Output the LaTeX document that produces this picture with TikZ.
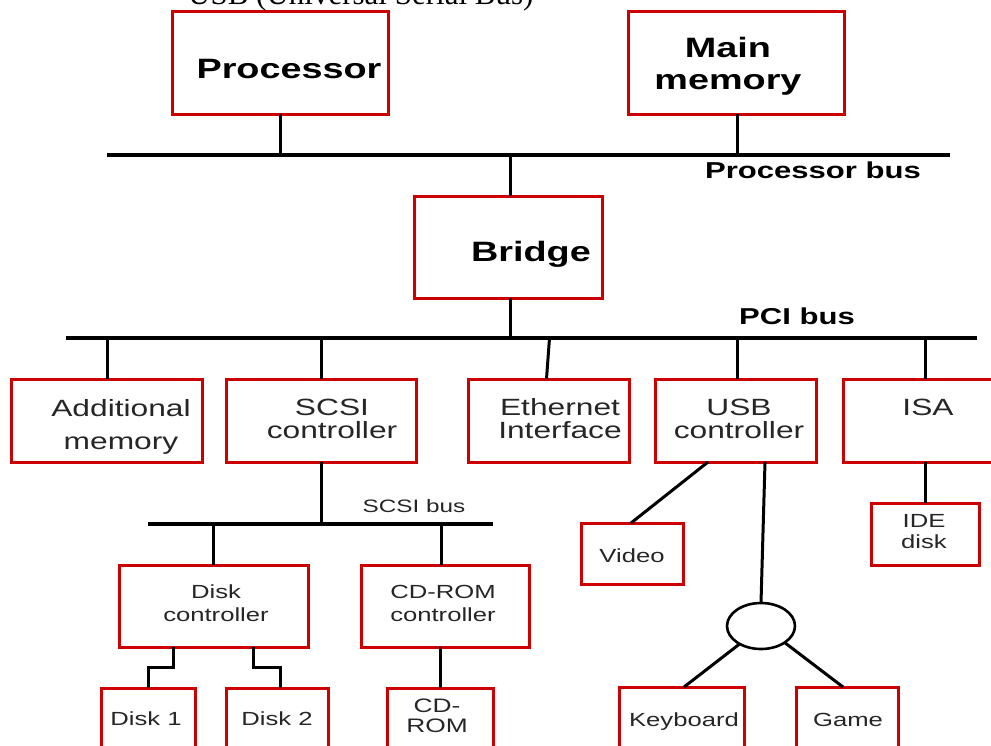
\documentclass[tikz,border=0pt]{standalone}
\usepackage{fontspec}
\setmainfont{Liberation Serif}
\newfontfamily\wsans[FakeStretch=1.35]{Liberation Sans}
\usetikzlibrary{shapes.geometric}
\definecolor{boxred}{RGB}{204,0,0}
\tikzset{
  box/.style={draw=boxred, line width=3pt, inner sep=0pt, outer sep=0pt},
  wire/.style={line width=3pt, black},
  busline/.style={line width=3.2pt, black},
  lblB/.style={anchor=base, align=center, inner sep=0pt, font=\wsans\bfseries\fontsize{28}{32}\selectfont},
  lblBus/.style={anchor=base, inner sep=0pt, font=\wsans\bfseries\fontsize{23}{26}\selectfont},
  lblM/.style={anchor=base, align=center, inner sep=0pt, text=black!85, font=\wsans\fontsize{23.5}{23}\selectfont},
  lblS/.style={anchor=base, align=center, inner sep=0pt, text=black!85, font=\wsans\fontsize{19}{23}\selectfont},
  hubshape/.style={ellipse, draw=black, line width=2.6pt, inner sep=0pt, outer sep=0pt, minimum width=68pt, minimum height=46pt}
}
\begin{document}
\begin{tikzpicture}[x=1pt,y=-1pt]
\clip (0,0) rectangle (991,745);
\fill[white] (0,0) rectangle (991,745);

% title (cut off at top, as in the original)
\node[anchor=base west, inner sep=0pt, font=\fontsize{31}{34}\selectfont] (title) at (188,4) {USB (Universal Serial Bus)};

% bus coordinates
\coordinate (pbL) at (107,155);
\coordinate (pbR) at (950,155);
\coordinate (pciL) at (66,338);
\coordinate (pciR) at (977,338);
\coordinate (scsiL) at (148,524);
\coordinate (scsiR) at (493,524);

% top level
\node[box, minimum width=216pt, minimum height=103pt] (proc) at (280,62.5) {};
\node[lblB] (proc-t) at (289,78) {Processor};
\node[box, minimum width=216pt, minimum height=103pt] (mem) at (736,62.5) {};
\node[lblB] (mem-t) at (728,89) {Main\\memory};
\node[lblBus] (pb-t) at (813,178) {Processor bus};

\node[box, minimum width=188pt, minimum height=102pt] (bridge) at (508,247) {};
\node[lblB] (bridge-t) at (531,261) {Bridge};
\node[lblBus] (pci-t) at (797,324) {PCI bus};

% PCI row
\node[box, minimum width=191pt, minimum height=83pt] (addmem) at (107,420.5) {};
\node[lblM, font=\wsans\fontsize{23.5}{33}\selectfont] (addmem-t) at (121,449) {Additional\\memory};
\node[box, minimum width=190pt, minimum height=83pt] (scsi) at (321.5,420.5) {};
\node[lblM] (scsi-t) at (332,438) {SCSI\\controller};
\node[box, minimum width=161pt, minimum height=83pt] (eth) at (548.5,420.5) {};
\node[lblM] (eth-t) at (560,438) {Ethernet\\Interface};
\node[box, minimum width=161pt, minimum height=83pt] (usb) at (736,420.5) {};
\node[lblM] (usb-t) at (739,438) {USB\\controller};
\node[box, minimum width=164pt, minimum height=83pt] (isa) at (925,420.5) {};
\node[lblM] (isa-t) at (928,415) {ISA};

% SCSI subtree
\node[lblS, font=\wsans\fontsize{18}{20}\selectfont] (scsibus-t) at (414,512) {SCSI bus};
\node[box, minimum width=189pt, minimum height=82pt] (dctrl) at (213.5,606) {};
\node[lblS] (dctrl-t) at (216,621) {Disk\\controller};
\node[box, minimum width=168pt, minimum height=82pt] (cdctrl) at (445,606) {};
\node[lblS] (cdctrl-t) at (443,621) {CD-ROM\\controller};
\node[box, minimum width=94pt, minimum height=80pt] (disk1) at (148,728) {};
\node[lblS] (disk1-t) at (146,725) {Disk 1};
\node[box, minimum width=102pt, minimum height=80pt] (disk2) at (277,728) {};
\node[lblS] (disk2-t) at (277,725) {Disk 2};
\node[box, minimum width=106pt, minimum height=80pt] (cdrom) at (440,728) {};
\node[lblS, font=\wsans\fontsize{19.5}{20}\selectfont] (cdrom-t) at (437,732) {CD-\\ROM};

% USB subtree
\node[box, minimum width=102pt, minimum height=61pt] (video) at (632,553.5) {};
\node[lblS] (video-t) at (632,562) {Video};
\node[hubshape] (hub) at (761,626) {};
\node[box, minimum width=125pt, minimum height=80pt] (kbd) at (681.5,727) {};
\node[lblS] (kbd-t) at (684,726) {Keyboard};
\node[box, minimum width=102pt, minimum height=80pt] (game) at (847,727) {};
\node[lblS] (game-t) at (848,726) {Game};

% ISA subtree
\node[box, minimum width=108pt, minimum height=62pt] (ide) at (925,534) {};
\node[lblS, font=\wsans\fontsize{19}{21}\selectfont] (ide-t) at (924,548) {IDE\\disk};

% buses
\draw[busline] (pbL) -- (pbR);
\draw[busline] (pciL) -- (pciR);
\draw[busline] (scsiL) -- (scsiR);

% connectors
\draw[wire] (proc.south) -- (proc.south |- pbL);
\draw[wire] ([xshift=1]mem.south) -- ([xshift=1]mem.south |- pbL);
\draw[wire] ([xshift=2]bridge.north) -- ([xshift=2]bridge.north |- pbL);
\draw[wire] ([xshift=2]bridge.south) -- ([xshift=2]bridge.south |- pciL);
\draw[wire] (addmem.north) -- (addmem.north |- pciL);
\draw[wire] (scsi.north) -- (scsi.north |- pciL);
\draw[wire] ([xshift=-2]eth.north) -- ([xshift=1]eth.north |- pciL);
\draw[wire] ([xshift=1]usb.north) -- ([xshift=1]usb.north |- pciL);
\draw[wire] (isa.north) -- (isa.north |- pciL);
\draw[wire] (scsi.south) -- (scsi.south |- scsiL);
\draw[wire] (dctrl.north) -- (dctrl.north |- scsiL);
\draw[wire] ([xshift=-4]cdctrl.north) -- ([xshift=-4]cdctrl.north |- scsiL);
\draw[wire] ([xshift=-40.5]dctrl.south) -- ++(0,20) -| (disk1.north);
\draw[wire] ([xshift=39.5]dctrl.south) -- ++(0,20) -| ([xshift=3]disk2.north);
\draw[wire] ([xshift=-5]cdctrl.south) -- (cdrom.north);
\draw[wire] ([xshift=-28]usb.south) -- ([xshift=-1]video.north);
\draw[wire] ([xshift=29]usb.south) -- (hub.north);
\draw[wire] (hub.220) -- ([xshift=2.5]kbd.north);
\draw[wire] (hub.-35) -- ([xshift=-4]game.north);
\draw[wire] (isa.south) -- (ide.north);
\end{tikzpicture}
\end{document}
